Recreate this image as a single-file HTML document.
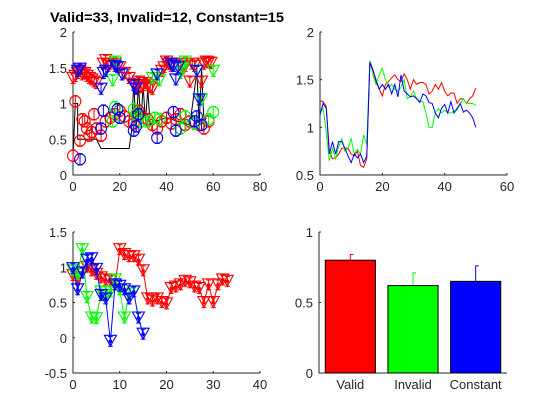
<!DOCTYPE html>
<html><head><meta charset="utf-8">
<style>
html,body{margin:0;padding:0;background:#fff;}
svg{display:block;font-family:"Liberation Sans",sans-serif;}
</style></head>
<body>
<svg id="fig" width="560" height="420" viewBox="0 0 560 420" xmlns="http://www.w3.org/2000/svg">
<rect width="560" height="420" fill="#fff"/>
<text x="167" y="22" text-anchor="middle" font-size="14" font-weight="bold" fill="#000" textLength="234" lengthAdjust="spacingAndGlyphs">Valid=33, Invalid=12, Constant=15</text>
</svg>
<script>
// ---- Top-left data ----
const tlRedTriX=[0,1,2,3,4,5,6,7,8,9,10,13,14,15,16,18,20,22,24,26,27,28,29,30,31,32,33,34,38,39,40,41,42,46,47,48,50,51,52,55,56,57,58,59];
const tlRedTriY=[1.35,1.38,1.42,1.45,1.4,1.42,1.38,1.35,1.33,1.3,1.28,1.55,1.6,1.52,1.55,1.55,1.5,1.42,1.35,1.27,1.25,1.3,1.22,1.25,1.28,1.25,1.22,1.2,1.45,1.5,1.58,1.55,1.52,1.55,1.5,1.52,1.3,1.55,1.52,1.3,1.55,1.58,1.57,1.56];
const tlRedCirX=[0,1,3,4,5,6,7,8,9,10,12,14,16,18,20,22,24,26,28,30,32,34,36,38,40,42,44,46,48,50,52,54,56,58];
const tlRedCirY=[0.27,1.03,0.48,0.78,0.75,0.65,0.55,0.6,0.85,0.65,0.55,0.75,0.8,0.85,0.9,0.82,0.75,0.72,0.9,0.8,0.78,0.7,0.65,0.75,0.8,0.72,0.78,0.85,0.7,0.75,0.72,0.7,0.65,0.75];
const tlBlueTriX=[2,3,12,13,14,18,19,21,26,27,36,42,43,44,45,53,54];
const tlBlueTriY=[1.45,1.48,1.2,1.42,1.45,1.52,1.5,1.4,1.25,1.2,1.4,1.55,1.52,1.33,1.5,1.45,1.05];
const tlBlueCirX=[3,12,13,19,20,26,27,28,36,43,44,52,53,55];
const tlBlueCirY=[0.22,0.65,0.9,0.92,0.8,0.62,0.68,0.85,0.52,0.88,0.62,0.75,0.82,0.7];
const tlGreenTriX=[17,18,34,36,37,46,47,48,53,55,60];
const tlGreenTriY=[1.32,1.58,1.35,1.4,1.32,1.42,1.48,1.58,1.45,1.05,1.45];
const tlGreenCirX=[17,18,26,27,29,32,35,37,46,48,52,55,58,60];
const tlGreenCirY=[0.75,0.95,0.92,0.85,0.75,0.75,0.8,0.78,0.65,0.82,0.72,0.7,0.78,0.88];
const tlBlackX=[0,1,2,2,3,3,10,12,24,25,26,27,28,29,30,31,32,33,35,40,45,50,53,54,55,56,57];
const tlBlackY=[0.27,1.0,1.0,0.5,0.5,0.5,0.5,0.37,0.37,0.6,1.3,0.6,1.3,0.7,1.25,0.75,1.2,0.7,0.75,0.8,0.75,0.7,1.45,0.7,1.5,0.75,0.8];
// ---- Top-right data ----
const trRed=[1.28,1.27,1.22,0.75,0.67,0.68,0.72,0.78,0.78,0.78,0.72,0.70,0.75,0.6,0.58,0.67,1.7,1.6,1.5,1.4,1.33,1.45,1.48,1.52,1.55,1.5,1.48,1.56,1.5,1.4,1.5,1.45,1.47,1.47,1.45,1.35,1.38,1.45,1.4,1.47,1.38,1.33,1.36,1.36,1.25,1.30,1.30,1.25,1.30,1.33,1.41];
const trGreen=[1.15,1.2,0.95,0.65,0.78,0.67,0.8,0.88,0.75,0.78,0.88,0.72,0.77,0.72,0.92,0.82,1.7,1.55,1.45,1.55,1.62,1.5,1.42,1.45,1.40,1.38,1.42,1.5,1.3,1.32,1.38,1.3,1.28,1.27,1.15,1.0,1.0,1.15,1.2,1.15,1.18,1.15,1.15,1.17,1.18,1.25,1.3,1.25,1.25,1.25,1.23];
const trBlue=[1.13,1.25,1.2,0.72,0.85,0.72,0.85,0.85,0.78,0.7,0.63,0.72,0.68,0.72,0.63,0.7,1.68,1.6,1.48,1.4,1.45,1.40,1.45,1.35,1.45,1.32,1.55,1.38,1.35,1.32,1.33,1.3,1.26,1.35,1.33,1.26,1.25,1.15,1.1,1.2,1.24,1.15,1.27,1.15,1.2,1.25,1.16,1.18,1.15,1.1,1.0];
// ---- Bottom-left data ----
const blRed=[0.88,0.85,0.92,1.0,0.95,0.9,0.85,0.82,0.8,0.75,1.25,1.18,1.15,1.15,1.1,0.95,0.55,0.52,0.55,0.5,0.48,0.7,0.72,0.75,0.8,0.78,0.72,0.7,0.5,0.75,0.5,0.75,0.82,0.8];
const blGreen=[0.95,0.9,1.25,0.57,0.28,0.27,0.65,0.6,0.65,0.82,0.68,0.28,0.62];
const blBlue=[0.98,0.68,0.92,1.1,1.12,0.97,0.6,0.55,-0.05,0.75,0.73,0.68,0.55,0.65,0.28,0.05];
// ---- Bottom-right data ----
const barCats=["Valid","Invalid","Constant"];
const barVals=[0.80,0.62,0.65];
const barErr=[0.04,0.09,0.11];
const barColors=["#ff0000","#00ff00","#0000ff"];

const NS="http://www.w3.org/2000/svg";
const fig=document.getElementById('fig');
function el(tag,attrs,parent){const e=document.createElementNS(NS,tag);for(const k in attrs)e.setAttribute(k,attrs[k]);(parent||fig).appendChild(e);return e;}
function axes(name,x0,x1,y0,y1,xmin,xmax,ymin,ymax,xt,yt,xl,yl){
  const g=el('g',{});
  
  
  const sx=v=>x0+(v-xmin)/(xmax-xmin)*(x1-x0);
  const sy=v=>y1-(v-ymin)/(ymax-ymin)*(y1-y0);
  const ax=el('path',{d:`M${x0},${y0}V${y1}H${x1}`,stroke:'#262626',fill:'none','stroke-width':1},g);
  
  
  xt.forEach((t,i)=>{const p=sx(t);
    el('line',{x1:p,x2:p,y1:y1,y2:y1-2,stroke:'#262626'},g);
    const tx=el('text',{x:p,y:y1+16,'text-anchor':'middle','font-size':13,fill:'#262626'},g);
    
    
    tx.textContent=xl?xl[i]:t;});
  yt.forEach((t,i)=>{const p=sy(t);
    el('line',{x1:x0,x2:x0+2,y1:p,y2:p,stroke:'#262626'},g);
    const tx=el('text',{x:x0-6,y:p+5,'text-anchor':'end','font-size':13,fill:'#262626'},g);
    
    
    tx.textContent=yl?yl[i]:t;});
  return {g,sx,sy};
}
function line(A,xs,ys,color,name){
  const pl=el('polyline',{points:xs.map((x,i)=>A.sx(x)+','+A.sy(ys[i])).join(' '),fill:'none',stroke:color,'stroke-width':1},A.g);
  
  
}
function tri(A,x,y,color,err){
  const px=A.sx(x),py=A.sy(y);
  el('path',{d:`M${px},${A.sy(y-err)}V${A.sy(y+err)}M${px-2.5},${A.sy(y-err)}h5M${px-2.5},${A.sy(y+err)}h5`,stroke:color,fill:'none'},A.g);
  const t=el('path',{d:`M${px-6},${py-6}H${px+6}L${px},${py+5}Z`,stroke:color,fill:'none','stroke-width':1.1},A.g);
  
  
}
function cir(A,x,y,color,err){
  const px=A.sx(x),py=A.sy(y);
  el('path',{d:`M${px},${A.sy(y-err)}V${A.sy(y+err)}M${px-2.5},${A.sy(y-err)}h5M${px-2.5},${A.sy(y+err)}h5`,stroke:color,fill:'none'},A.g);
  const c=el('circle',{cx:px,cy:py,r:5.5,stroke:color,fill:'none','stroke-width':1.1},A.g);
  
  
}
// Top-left
const A1=axes('top-left-plot',73,260,32,175,0,80,0,2,[0,20,40,60,80],[0,0.5,1,1.5,2]);
line(A1,tlBlackX,tlBlackY,'#000','black-step-line');
tlRedCirX.forEach((x,i)=>cir(A1,x,tlRedCirY[i],'#ff0000',0.08));
tlGreenCirX.forEach((x,i)=>cir(A1,x,tlGreenCirY[i],'#00ff00',0.08));
tlBlueCirX.forEach((x,i)=>cir(A1,x,tlBlueCirY[i],'#0000ff',0.08));
tlRedTriX.forEach((x,i)=>tri(A1,x,tlRedTriY[i],'#ff0000',0.07));
tlGreenTriX.forEach((x,i)=>tri(A1,x,tlGreenTriY[i],'#00ff00',0.07));
tlBlueTriX.forEach((x,i)=>tri(A1,x,tlBlueTriY[i],'#0000ff',0.07));
// Top-right
const A2=axes('top-right-plot',320,507,32,175,0,60,0.5,2,[0,20,40,60],[0.5,1,1.5,2]);
const idx=trRed.map((_,i)=>i);
line(A2,idx,trRed,'#ff0000','red-line');
line(A2,idx,trGreen,'#00ff00','green-line');
line(A2,idx,trBlue,'#0000ff','blue-line');
// Bottom-left
const A3=axes('bottom-left-plot',73,260,232,373,0,40,-0.5,1.5,[0,10,20,30,40],[-0.5,0,0.5,1,1.5]);
[[blRed,'#ff0000','red'],[blGreen,'#00ff00','green'],[blBlue,'#0000ff','blue']].forEach(([d,c,n])=>{
  const xs=d.map((_,i)=>i);
  line(A3,xs,d,c,n+'-series-line');
  d.forEach((y,i)=>{tri(A3,i,y,c,0.07);el('circle',{cx:A3.sx(i),cy:A3.sy(y),r:1.8,fill:c},A3.g);});
});
// Bottom-right
const A4=axes('bottom-right-bar-chart',319,507,232,373,0.5,3.5,0,1,[1,2,3],[0,0.5,1],barCats,['0','0.5','1']);
barVals.forEach((v,i)=>{
  const cx=A4.sx(i+1),w=A4.sx(1.4)-A4.sx(1);
  const eb=el('path',{d:`M${cx},${A4.sy(v)}V${A4.sy(v+barErr[i])}h3`,stroke:barColors[i],fill:'none'},A4.g);
  
  
  const r=el('rect',{x:cx-w,y:A4.sy(v),width:2*w,height:A4.sy(0)-A4.sy(v),fill:barColors[i],stroke:'#000','stroke-width':1},A4.g);
  
  
});
</script>
</body></html>
